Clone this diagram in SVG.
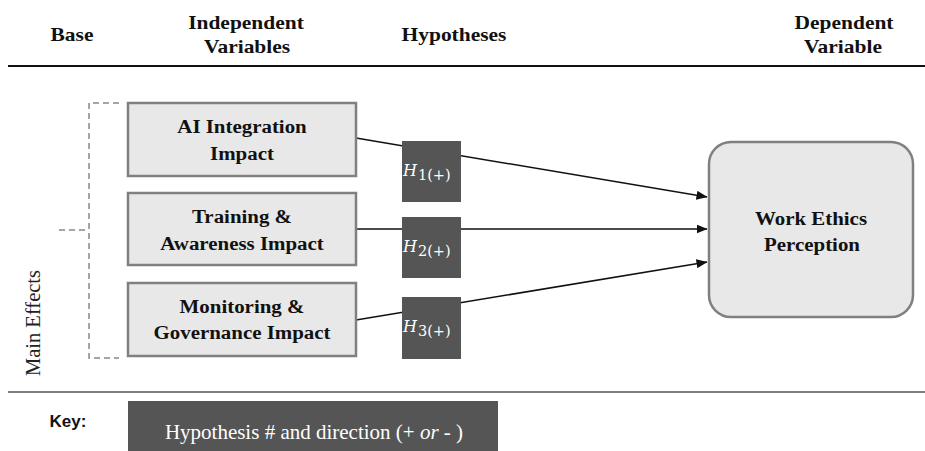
<svg xmlns="http://www.w3.org/2000/svg" width="925" height="451" viewBox="0 0 925 451">
<style>
.hdr{font-family:"Liberation Serif",serif;font-weight:bold;font-size:19px;fill:#111;text-anchor:middle}
.box{fill:#e8e8e8;stroke:#808080;stroke-width:2.5}
.bt{font-family:"Liberation Serif",serif;font-weight:bold;font-size:19px;fill:#111;text-anchor:middle}
.hb{fill:#555555}
.ht{font-family:"DejaVu Serif",serif;font-style:italic;font-size:16px;fill:#fff}
.hs{font-family:"DejaVu Serif",serif;font-size:14.5px;fill:#fff}
.con{stroke:#111;stroke-width:1.5;fill:none}
.dash{stroke:#888;stroke-width:1.5;fill:none;stroke-dasharray:6 4}
</style>
<defs>
<marker id="arr" markerWidth="11" markerHeight="9" refX="10.5" refY="4.5" orient="auto" markerUnits="userSpaceOnUse">
<path d="M0,0 L11,4.5 L0,9 z" fill="#111"/>
</marker>
</defs>
<rect width="925" height="451" fill="#fff"/>
<g id="headers">
<text class="hdr" transform="translate(72,41) scale(1.13,1)">Base</text>
<text class="hdr" transform="translate(246,29) scale(1.13,1)">Independent</text>
<text class="hdr" transform="translate(247,53) scale(1.13,1)">Variables</text>
<text class="hdr" transform="translate(454,41) scale(1.13,1)">Hypotheses</text>
<text class="hdr" transform="translate(844,29) scale(1.13,1)">Dependent</text>
<text class="hdr" transform="translate(843,53) scale(1.13,1)">Variable</text>
<line x1="8" y1="66" x2="925" y2="66" stroke="#111" stroke-width="2"/>
</g>
<g id="bracket">
<path class="dash" d="M119,103 H89 V358 H119"/>
<path class="dash" d="M59,230 H89"/>
<text font-family="Liberation Serif, serif" font-size="20.5" fill="#222" text-anchor="middle" transform="translate(40,323) rotate(-90)">Main Effects</text>
</g>
<g id="connectors">
<line class="con" x1="356" y1="138" x2="707" y2="197" marker-end="url(#arr)"/>
<line class="con" x1="356" y1="229" x2="707" y2="229" marker-end="url(#arr)"/>
<line class="con" x1="356" y1="320" x2="707" y2="262" marker-end="url(#arr)"/>
</g>
<g id="iv1">
<rect class="box" x="128" y="103" width="228" height="73"/>
<text class="bt" transform="translate(242,133) scale(1.1,1)">AI Integration</text>
<text class="bt" transform="translate(242,160) scale(1.1,1)">Impact</text>
</g>
<g id="iv2">
<rect class="box" x="128" y="193" width="228" height="72"/>
<text class="bt" transform="translate(242,223) scale(1.1,1)">Training &amp;</text>
<text class="bt" transform="translate(242,250) scale(1.1,1)">Awareness Impact</text>
</g>
<g id="iv3">
<rect class="box" x="128" y="283" width="228" height="73"/>
<text class="bt" transform="translate(242,313) scale(1.1,1)">Monitoring &amp;</text>
<text class="bt" transform="translate(242,339) scale(1.1,1)">Governance Impact</text>
</g>
<g id="h1">
<rect class="hb" x="402" y="141" width="59" height="61"/>
<text x="403" y="176"><tspan class="ht">H</tspan><tspan class="hs" dx="1" dy="4">1(+)</tspan></text>
</g>
<g id="h2">
<rect class="hb" x="402" y="217" width="59" height="61"/>
<text x="403" y="252"><tspan class="ht">H</tspan><tspan class="hs" dx="1" dy="4">2(+)</tspan></text>
</g>
<g id="h3">
<rect class="hb" x="402" y="297" width="59" height="62"/>
<text x="403" y="332"><tspan class="ht">H</tspan><tspan class="hs" dx="1" dy="4">3(+)</tspan></text>
</g>
<g id="dv">
<rect class="box" x="709" y="142" width="204" height="175" rx="22" ry="22"/>
<text class="bt" transform="translate(811,225) scale(1.1,1)">Work Ethics</text>
<text class="bt" transform="translate(812,251) scale(1.1,1)">Perception</text>
</g>
<g id="key">
<line x1="8" y1="392" x2="925" y2="392" stroke="#555" stroke-width="1.5"/>
<text x="68" y="427" font-family="Liberation Sans, sans-serif" font-weight="bold" font-size="17" fill="#111" text-anchor="middle">Key:</text>
<rect x="128" y="401" width="370" height="50" fill="#555555"/>
<text x="314" y="439" font-family="Liberation Serif, serif" font-size="21" fill="#fff" text-anchor="middle">Hypothesis # and direction (+ <tspan font-style="italic">or</tspan> - )</text>
</g>
</svg>
